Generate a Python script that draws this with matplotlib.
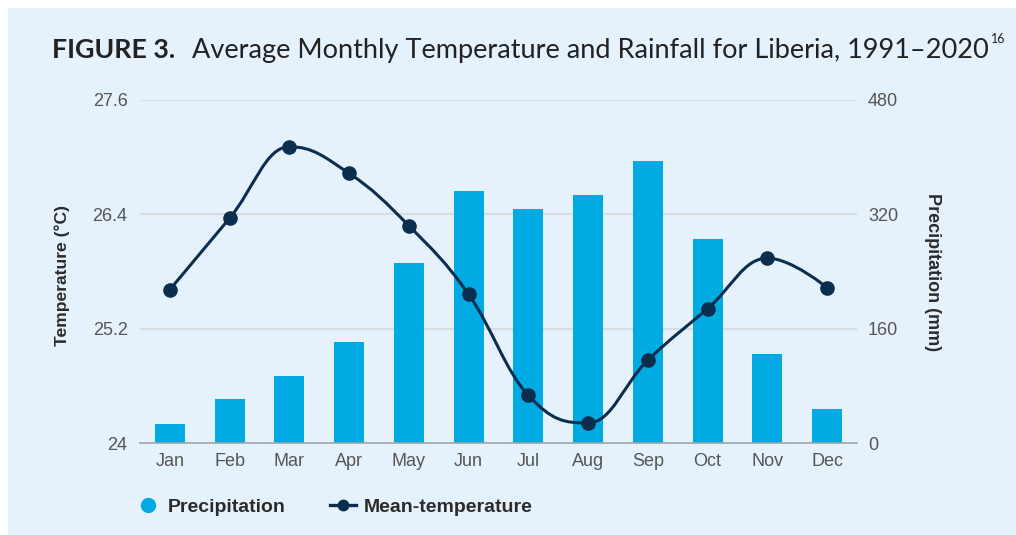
import matplotlib
matplotlib.use("Agg")
import matplotlib.pyplot as plt
from matplotlib.path import Path
from matplotlib.patches import PathPatch, Rectangle
from matplotlib.lines import Line2D
import numpy as np

months = ["Jan", "Feb", "Mar", "Apr", "May", "Jun", "Jul", "Aug", "Sep", "Oct", "Nov", "Dec"]
precipitation = [27, 62, 94, 142, 252, 352, 328, 347, 394, 286, 124, 48]
temperature = [25.61, 26.36, 27.11, 26.83, 26.28, 25.56, 24.50, 24.21, 24.87, 25.41, 25.94, 25.63]
temp_ticks = [24, 25.2, 26.4, 27.6]
temp_tick_labels = ["24", "25.2", "26.4", "27.6"]
prec_ticks = [0, 160, 320, 480]
legend_labels = ["Precipitation", "Mean-temperature"]

BG = "#E6F2FB"
BAR = "#00AAE2"
LINE = "#0B2D4E"
GRID = "#D8DCE0"
TICK = "#555555"
DARK = "#2B2B2B"
TICKSIZE = 13

W, H = 1016, 535
fig = plt.figure(figsize=(W / 100, H / 100), dpi=100)
fig.patch.set_facecolor("white")
fig.add_artist(Rectangle((8 / W, 0), 1 - 8 / W, 1 - 8 / H, transform=fig.transFigure,
                         facecolor=BG, edgecolor="none", zorder=-10))

ax_l, ax_r, ax_t, ax_b = 140, 857, 100, 443
rect = [ax_l / W, (H - ax_b) / H, (ax_r - ax_l) / W, (ax_b - ax_t) / H]

# precipitation axis (bars) underneath
axp = fig.add_axes(rect)
axp.set_facecolor("none")
x = np.arange(len(months))
axp.bar(x, precipitation, width=0.5, color=BAR, zorder=2)
axp.set_ylim(0, 480)
axp.set_xlim(-0.5, len(months) - 0.5)
axp.set_yticks(prec_ticks)
axp.set_yticklabels([str(v) for v in prec_ticks])
axp.yaxis.tick_right()
axp.yaxis.set_label_position("right")
axp.tick_params(axis="y", length=0, pad=8, labelsize=TICKSIZE, labelcolor=TICK)
axp.set_xticks(x)
axp.set_xticklabels(months)
axp.tick_params(axis="x", length=0, pad=7.5, labelsize=TICKSIZE, labelcolor=TICK)
for lab in axp.get_xticklabels() + axp.get_yticklabels():
    lab.set_fontfamily("Liberation Sans")
for s in ["top", "left", "right"]:
    axp.spines[s].set_visible(False)
axp.spines["bottom"].set_color("#A0A4A8")
axp.spines["bottom"].set_linewidth(1.2)
axp.spines["bottom"].set_zorder(3)
for t in prec_ticks[1:]:
    axp.axhline(t, color=GRID, lw=1.6, zorder=1)
axp.set_ylabel("Precipitation (mm)", rotation=270, fontsize=13, fontweight="bold",
               color=DARK, fontfamily="Liberation Sans", va="center")
axp.yaxis.set_label_coords((933 - ax_l) / (ax_r - ax_l), (443 - 272) / 343)

# temperature axis on top
axt = fig.add_axes(rect, sharex=axp)
axt.set_facecolor("none")
axt.set_ylim(24, 27.6)
axt.set_yticks(temp_ticks)
axt.set_yticklabels(temp_tick_labels)
axt.tick_params(axis="y", length=0, pad=9, labelsize=TICKSIZE, labelcolor=TICK)
axt.tick_params(axis="x", bottom=False, labelbottom=False)
for lab in axt.get_yticklabels():
    lab.set_fontfamily("Liberation Sans")
for s in axt.spines.values():
    s.set_visible(False)
axt.set_ylabel("Temperature (°C)", fontsize=12.6, fontweight="bold", color=DARK,
               fontfamily="Liberation Sans", va="center")
axt.yaxis.set_label_coords((62 - ax_l) / (ax_r - ax_l), (443 - 276) / 343)

# Highcharts-like spline through the temperature points
def spline_path(xs, ys, smoothing=1.5):
    n = len(xs)
    lc = [None] * n
    rc = [None] * n
    for i in range(1, n - 1):
        px, py = xs[i], ys[i]
        lx, ly = xs[i - 1], ys[i - 1]
        nx, ny = xs[i + 1], ys[i + 1]
        d = smoothing + 1
        lcx = (smoothing * px + lx) / d
        lcy = (smoothing * py + ly) / d
        rcx = (smoothing * px + nx) / d
        rcy = (smoothing * py + ny) / d
        corr = 0
        if rcx != lcx:
            corr = ((rcy - lcy) * (rcx - px)) / (rcx - lcx) + py - rcy
        lcy += corr
        rcy += corr
        if lcy > ly and lcy > py:
            lcy = max(ly, py); rcy = 2 * py - lcy
        elif lcy < ly and lcy < py:
            lcy = min(ly, py); rcy = 2 * py - lcy
        if rcy > ny and rcy > py:
            rcy = max(ny, py); lcy = 2 * py - rcy
        elif rcy < ny and rcy < py:
            rcy = min(ny, py); lcy = 2 * py - rcy
        lc[i] = (lcx, lcy)
        rc[i] = (rcx, rcy)
    verts = [(xs[0], ys[0])]
    codes = [Path.MOVETO]
    for i in range(1, n):
        c1 = rc[i - 1] if rc[i - 1] is not None else (xs[i - 1], ys[i - 1])
        c2 = lc[i] if lc[i] is not None else (xs[i], ys[i])
        verts += [c1, c2, (xs[i], ys[i])]
        codes += [Path.CURVE4] * 3
    return Path(verts, codes)

path = spline_path(list(x.astype(float)), temperature)
axt.add_patch(PathPatch(path, facecolor="none", edgecolor=LINE, lw=2.2, zorder=4))
axt.plot(x, temperature, linestyle="none", marker="o", markersize=9.5, color=LINE, zorder=5)

# Title
t1 = fig.text(52 / W, 1 - 58 / H, "FIGURE 3.", fontsize=17, fontweight="bold",
              color="#222222", fontfamily="Lato", va="baseline", ha="left")
t2 = fig.text(192 / W, 1 - 58 / H,
              "Average Monthly Temperature and Rainfall for Liberia, 1991\u20132020",
              fontsize=17, color="#222222", fontfamily="Lato", va="baseline", ha="left")
fig.canvas.draw()
r = fig.canvas.get_renderer()
bb = t2.get_window_extent(r)
t2.set_fontsize(17 * (990 - 192) / bb.width)
bb1 = t1.get_window_extent(r)
t1.set_fontsize(17 * (175 - 52) / bb1.width)
fig.canvas.draw()
bb = t2.get_window_extent(r)
fig.text((bb.x1 + 2) / W, 1 - 43 / H, "16", fontsize=9, color="#222222",
         fontfamily="Lato", va="baseline", ha="left")

# Legend (drawn manually in figure pixels)
ly = 1 - 505 / H
fig.add_artist(Line2D([148 / W], [ly], linestyle="none", marker="o", markersize=10,
                      color=BAR, transform=fig.transFigure))
fig.text(168 / W, ly, legend_labels[0], fontsize=14, fontweight="bold", color=DARK,
         fontfamily="Liberation Sans", va="center_baseline", ha="left")
fig.add_artist(Line2D([330 / W, 356 / W], [ly, ly], color=LINE, lw=2.4,
                      transform=fig.transFigure))
fig.add_artist(Line2D([343 / W], [ly], linestyle="none", marker="o", markersize=7.5,
                      color=LINE, transform=fig.transFigure))
fig.text(364 / W, ly, legend_labels[1], fontsize=14, fontweight="bold", color=DARK,
         fontfamily="Liberation Sans", va="center_baseline", ha="left")

fig.savefig("out.png", dpi=100, facecolor=fig.get_facecolor())
